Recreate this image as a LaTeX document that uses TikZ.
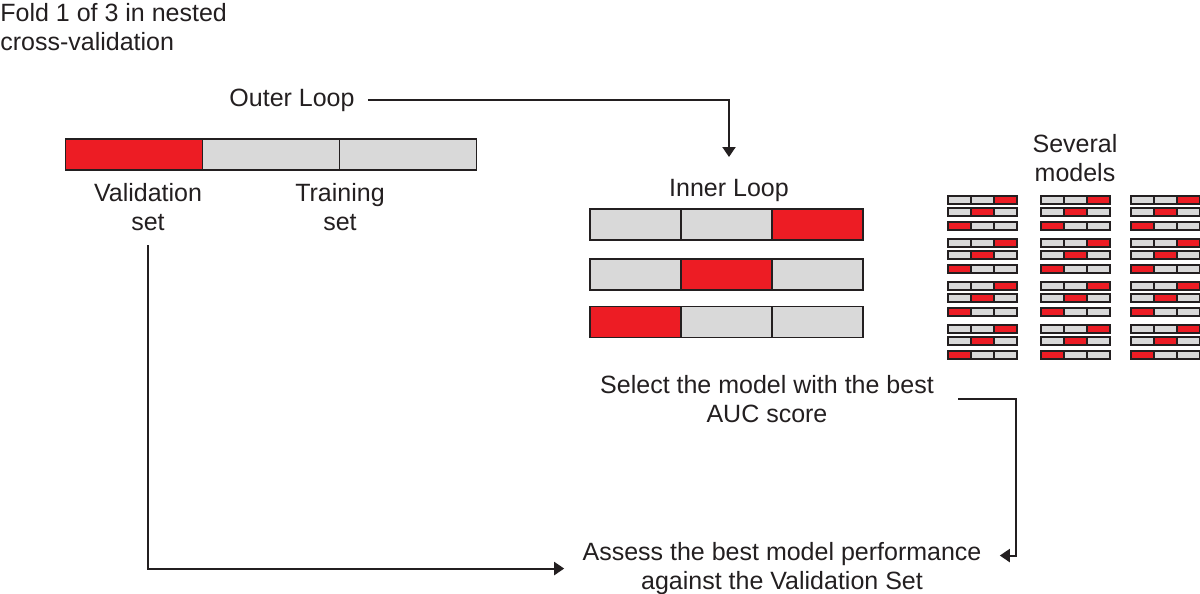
\documentclass[tikz,border=0pt]{standalone}
\usepackage{fontspec}
\setmainfont{Liberation Sans}
\usetikzlibrary{positioning,arrows.meta}

\definecolor{foldred}{HTML}{ED1C24}
\definecolor{foldgray}{HTML}{D9D9D9}
\definecolor{ink}{HTML}{231F20}

\begin{document}
\begin{tikzpicture}[
  x=0.5pt,
  y=-0.5pt,
  font=\fontsize{12.5}{14.5}\selectfont,
  txt/.style={inner sep=0pt, align=center, text=ink},
  seg/.style={draw=ink, line width=0.75pt, fill=foldgray, inner sep=0pt, outer sep=0pt, minimum width=68.5pt, minimum height=15.5pt},
  iseg/.style={seg, minimum width=45.5pt},
  mseg/.style={seg, line width=1pt, minimum width=11.5pt, minimum height=4pt},
  val/.style={fill=foldred},
  arr/.style={-{Triangle[length=5pt,width=6.5pt]}, line width=1pt, draw=ink}
]
\useasboundingbox (0,0) rectangle (1200,594);

% Titlu si etichete
\node[txt, anchor=north west, align=left] (fold) at (0,3) {Fold 1 of 3 in nested\\cross-validation};
\node[txt] (outer) at (292,100) {Outer Loop};

% Bara exterioara (validare + antrenare)
\node[seg,val] (v1) at (134,154.5) {};
\node[seg, right=0pt of v1] (v2) {};
\node[seg, right=0pt of v2] (v3) {};
\node[txt, anchor=north] (vallbl)   at (148,183) {Validation\\set};
\node[txt, anchor=north] (trainlbl) at (340,183) {Training\\set};

% Bucla interioara
\node[txt, anchor=north] (innerlbl) at (729,179) {Inner Loop};
\foreach \r/\y in {1/224.5,2/274.5,3/322} {
  \pgfmathtruncatemacro\red{4-\r}
  \foreach \s in {1,2,3} {
    \ifnum\s=\red \def\segfill{foldred}\else\def\segfill{foldgray}\fi
    \node[iseg, fill=\segfill] (in-\r-\s) at ({590+91*(\s-0.5)},\y) {};
  }
}

% Mai multe modele
\node[txt, anchor=north] (several) at (1075,134) {Several\\models};
\foreach \c/\cx in {1/948,2/1041,3/1131}
  \foreach \g/\gy in {1/196,2/239,3/282,4/325}
    \foreach \r/\ry in {1/0,2/12,3/26} {
      \pgfmathtruncatemacro\red{4-\r}
      \foreach \s in {1,2,3} {
        \ifnum\s=\red \def\segfill{foldred}\else\def\segfill{foldgray}\fi
        \node[mseg, fill=\segfill] (m-\c-\g-\r-\s) at ({\cx+23*(\s-0.5)},{\gy+\ry+4}) {};
      }
    }

% Selectie si evaluare
\node[txt, anchor=north] (select) at (767,375) {Select the model with the best\\AUC score};
\node[txt, anchor=north] (assess) at (782,542) {Assess the best model performance\\against the Validation Set};

% Sageti
\draw[arr, shorten <=6.5pt, shorten >=11pt] (outer.east) -| (innerlbl.north);
\draw[arr, shorten <=7pt, shorten >=9pt] (vallbl.south) |- (assess.west);
\draw[arr, shorten <=12pt, shorten >=9pt] (select.east) -- ++(82,0) |- ([yshift=6.5pt]assess.east);

\end{tikzpicture}
\end{document}
